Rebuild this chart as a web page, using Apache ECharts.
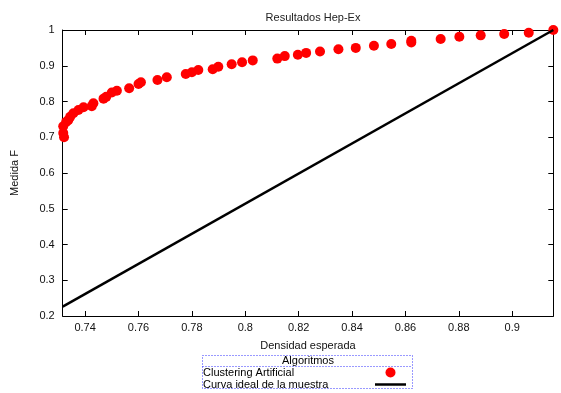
<!DOCTYPE html>
<html>
<head>
<meta charset="utf-8">
<script src="https://cdn.jsdelivr.net/npm/echarts@6/dist/echarts.min.js"></script>
<style>
  html, body { margin: 0; padding: 0; background: #fff; }
  #chart { width: 561px; height: 393px; }
</style>
</head>
<body>
<div id="chart"></div>
<script>
// valores
const densidad = [0.7321, 0.7318, 0.7318, 0.7329, 0.7337, 0.7344, 0.7356, 0.7375, 0.7394, 0.7425,
  0.7431, 0.7469, 0.7479, 0.7500, 0.7519, 0.7565, 0.7600, 0.7609, 0.7671, 0.7706,
  0.7777, 0.7800, 0.7824, 0.7878, 0.7899, 0.7949, 0.7988, 0.8028, 0.8120, 0.8148,
  0.8197, 0.8228, 0.8280, 0.8349, 0.8414, 0.8482, 0.8547, 0.8622, 0.8622, 0.8732,
  0.8802, 0.8882, 0.8970, 0.9062, 0.9154]
const medidaF = [0.700, 0.712, 0.731, 0.743, 0.748, 0.757, 0.767, 0.776, 0.784, 0.787,
  0.795, 0.808, 0.813, 0.825, 0.830, 0.837, 0.849, 0.854, 0.860, 0.868,
  0.877, 0.882, 0.888, 0.890, 0.897, 0.904, 0.910, 0.915, 0.920, 0.927,
  0.931, 0.936, 0.940, 0.946, 0.950, 0.956, 0.961, 0.970, 0.965, 0.975,
  0.981, 0.985, 0.989, 0.9925, 1.000]
const idealX = [0.7316, 0.9154]
const idealY = [0.226, 1.0]
const xTicks = [0.74, 0.76, 0.78, 0.80, 0.82, 0.84, 0.86, 0.88, 0.90]

const font = 'Liberation Sans, Arial, sans-serif'
const myChart = echarts.init(document.getElementById('chart'))

const xBase = {
  type: 'value',
  min: 0.7316,
  max: 0.9154,
  splitLine: { show: false },
  axisLine: { onZero: false, lineStyle: { color: '#000', width: 1 } },
  axisTick: { inside: true, length: 5, customValues: xTicks, lineStyle: { color: '#000' } }
}
const yBase = {
  type: 'value',
  min: 0.2,
  max: 1,
  interval: 0.1,
  splitLine: { show: false },
  axisLine: { onZero: false, lineStyle: { color: '#000', width: 1 } },
  axisTick: { inside: true, length: 5, lineStyle: { color: '#000' } }
}

const option = {
  animation: false,
  textStyle: { fontFamily: font },
  title: {
    text: 'Resultados Hep-Ex',
    left: 308,
    textAlign: 'center',
    top: 7,
    textStyle: { fontSize: 11, fontWeight: 'normal', color: '#222', fontFamily: font }
  },
  grid: { left: 62.7, right: 7.7, top: 30, bottom: 77 },
  xAxis: [
    Object.assign({}, xBase, {
      position: 'bottom',
      name: 'Densidad esperada',
      nameLocation: 'middle',
      nameGap: 24,
      nameTextStyle: { fontSize: 11, color: '#111', fontFamily: font },
      axisLabel: {
        customValues: xTicks,
        margin: 6,
        fontSize: 11,
        color: '#111',
        fontFamily: font,
        formatter: v => String(+v.toFixed(2))
      }
    }),
    Object.assign({}, xBase, { position: 'top', axisLabel: { show: false } })
  ],
  yAxis: [
    Object.assign({}, yBase, {
      position: 'left',
      name: 'Medida F',
      nameLocation: 'middle',
      nameGap: 42,
      nameTextStyle: { fontSize: 11, color: '#111', fontFamily: font },
      axisLabel: {
        margin: 8,
        fontSize: 11,
        color: '#111',
        fontFamily: font,
        formatter: v => String(+v.toFixed(1))
      }
    }),
    Object.assign({}, yBase, { position: 'right', axisLabel: { show: false } })
  ],
  legend: {
    orient: 'vertical',
    left: 203,
    top: 367,
    padding: 0,
    itemGap: 1,
    align: 'right',
    itemWidth: 31,
    itemHeight: 10,
    symbolKeepAspect: true,
    textStyle: {
      fontSize: 11,
      color: '#000',
      fontFamily: font,
      rich: { t: { width: 167, align: 'left', fontSize: 11, lineHeight: 10, fontFamily: font } }
    },
    formatter: '{t|{name}}',
    data: [
      { name: 'Clustering Artificial', icon: 'circle', itemStyle: { color: '#ff0000', opacity: 1 } },
      {
        name: 'Curva ideal de la muestra',
        icon: 'path://M0,0H31V2.5H0Z',
        itemStyle: { color: '#000', opacity: 1 }
      }
    ]
  },
  graphic: [
    {
      type: 'rect',
      shape: { x: 202.5, y: 355.5, width: 210, height: 33 },
      style: { fill: 'none', stroke: '#3333ff', lineWidth: 1, lineDash: [1, 2] }
    },
    {
      type: 'line',
      shape: { x1: 202.5, y1: 366.5, x2: 412.5, y2: 366.5 },
      style: { stroke: '#3333ff', lineWidth: 1, lineDash: [1, 2] }
    },
    {
      type: 'text',
      x: 308,
      y: 361,
      style: { text: 'Algoritmos', fontSize: 11, fill: '#000', fontFamily: font, align: 'center', verticalAlign: 'middle' }
    }
  ],
  series: [
    {
      name: 'Clustering Artificial',
      type: 'scatter',
      clip: false,
      symbol: 'circle',
      symbolSize: 10,
      itemStyle: { color: '#ff0000', opacity: 1 },
      data: densidad.map((x, i) => [x, medidaF[i]])
    },
    {
      name: 'Curva ideal de la muestra',
      type: 'line',
      showSymbol: false,
      symbol: 'none',
      lineStyle: { color: '#000', width: 2.5 },
      itemStyle: { color: '#000' },
      data: idealX.map((x, i) => [x, idealY[i]])
    }
  ]
}

myChart.setOption(option)
</script>
</body>
</html>
